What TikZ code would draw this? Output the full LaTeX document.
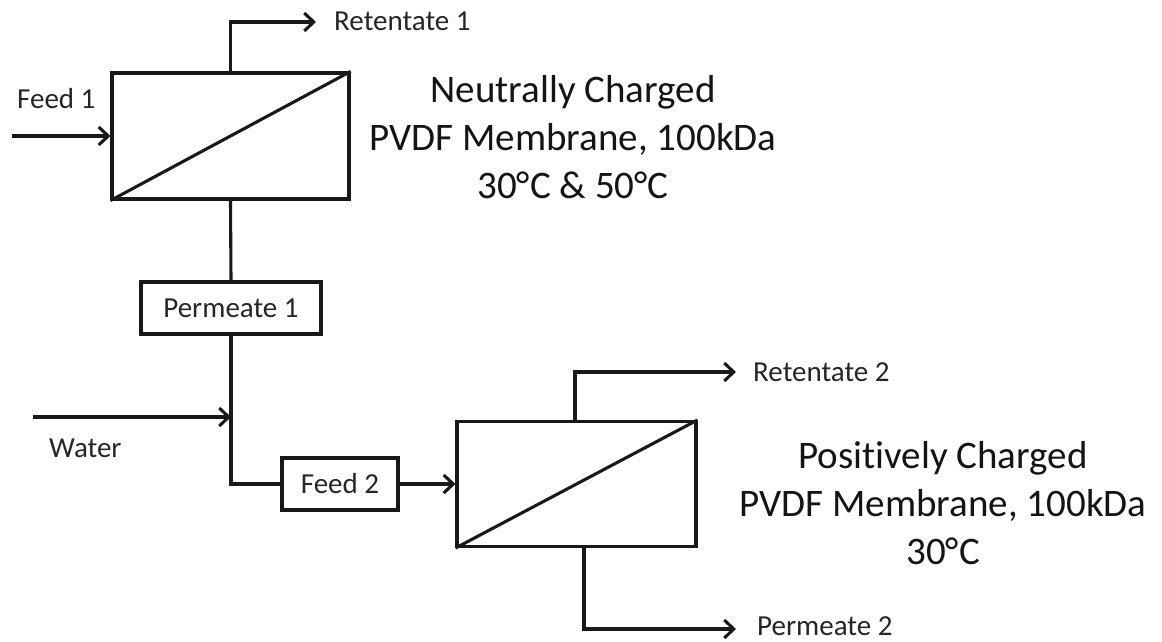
\documentclass[tikz,border=0pt]{standalone}
\usepackage{fontspec}
\setmainfont[Ligatures={NoCommon}]{Carlito}
\usetikzlibrary{arrows.meta,calc}
\begin{document}
\begin{tikzpicture}[x=1pt,y=-1pt,
  line/.style={line width=3.1pt, line join=miter, draw=black!90},
  arr/.style={line, -{Straight Barb[length=9.5pt,width=18pt,line width=3.1pt]}},
  membrane/.style={draw=black!90, line width=3.1pt, inner sep=0pt},
  labelbox/.style={draw=black!90, line width=3.1pt, inner sep=0pt, font=\fontsize{29}{34}\selectfont, text=black!85},
  lbl/.style={font=\fontsize{29}{34}\selectfont, inner sep=0pt, text=black!85},
  bigtxt/.style={font=\fontsize{39}{48}\selectfont, align=center, inner sep=0pt, text=black!92}]
\useasboundingbox (0,0) rectangle (1162,642);
\fill[white] (0,0) rectangle (1162,642);

% membranes
\node[membrane, minimum width=237pt, minimum height=126pt] (m1) at (230.5,136) {};
\draw[line] (m1.south west) -- (m1.north east);
\node[membrane, minimum width=239pt, minimum height=125pt] (m2) at (576.5,484) {};
\draw[line] (m2.south west) -- (m2.north east);

% boxes
\node[labelbox, minimum width=180pt, minimum height=52pt] (p1) at (231,308) {Permeate 1};
\node[labelbox, minimum width=116pt, minimum height=52pt] (f2) at (340,484) {Feed 2};

% labels
\node[lbl, anchor=base west] (f1) at (17,108) {Feed 1};
\node[lbl, anchor=base west] (r1) at (334,31) {Retentate 1};
\node[lbl, anchor=base west] (w) at (49,457) {Water};
\node[lbl, anchor=base west] (r2) at (753,381) {Retentate 2};
\node[lbl, anchor=base west] (p2) at (757,635) {Permeate 2};

\node[bigtxt] (t1) at (573,137) {Neutrally Charged\\PVDF Membrane, 100kDa\\30°C \& 50°C};
\node[bigtxt] (t2) at (943,503) {Positively Charged\\PVDF Membrane, 100kDa\\30°C};

% coordinates for free ends
\coordinate (f1in) at (12,136);
\coordinate (r1end) at (316,22);
\coordinate (win) at (33,417);
\coordinate (r2end) at (736,372);
\coordinate (p2end) at (736,629);

% connectors
\draw[arr] (f1in) -- (m1.west);
\draw[arr] (m1.north) |- (r1end);
\draw[line] (m1.south) -- (p1.north);
\draw[line] (p1.south) |- (f2.west);
\draw[arr] (win) -- (win -| p1.south);
\draw[arr] (f2.east) -- (m2.west);
\draw[arr] ($(m2.north)+(-1.5,0)$) |- (r2end);
\draw[arr] ($(m2.south)+(7.5,0)$) |- (p2end);
\end{tikzpicture}
\end{document}
